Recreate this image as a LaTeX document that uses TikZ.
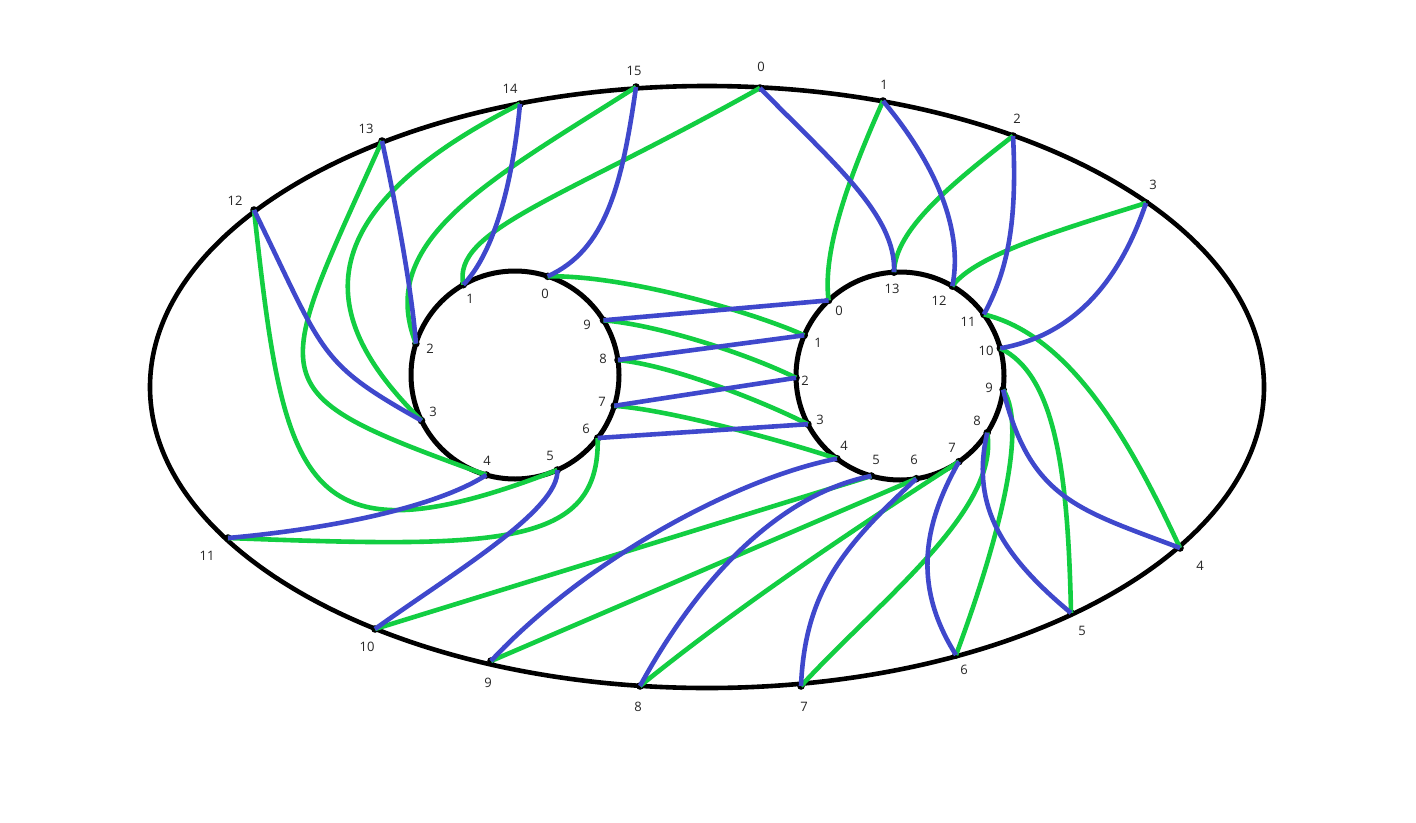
\documentclass[tikz,border=0pt]{standalone}
\usepackage{fontspec}
\setmainfont{Open Sans}
\definecolor{cgreen}{RGB}{18,206,66}
\definecolor{cblue}{RGB}{63,72,204}
\begin{document}
\begin{tikzpicture}[x=1pt,y=-1pt,
  gr/.style={draw=cgreen,line width=4.6pt},
  bl/.style={draw=cblue,line width=4.6pt},
  ring/.style={draw=black,line width=5pt},
  lab/.style={font=\fontsize{13}{15}\selectfont,inner sep=0pt,text=black!85},
  pt/.style={fill=black}]
\useasboundingbox (0,0) rectangle (1416,822);
\fill[white] (0,0) rectangle (1416,822);
% outer points
\coordinate (o0) at (760,88);
\coordinate (o1) at (883,101);
\coordinate (o2) at (1013,136);
\coordinate (o3) at (1146,203);
\coordinate (o4) at (1180,548);
\coordinate (o5) at (1071,613);
\coordinate (o6) at (956,655);
\coordinate (o7) at (801,686);
\coordinate (o8) at (640,686);
\coordinate (o9) at (491,661);
\coordinate (o10) at (375,629);
\coordinate (o11) at (228,538);
\coordinate (o12) at (254,210);
\coordinate (o13) at (382,141);
\coordinate (o14) at (520,104);
\coordinate (o15) at (636,87);
% left circle points
\coordinate (lc) at (515,375);
\coordinate (l0) at (547.7,276.3);
\coordinate (l1) at (463.3,284.7);
\coordinate (l2) at (415.9,343.6);
\coordinate (l3) at (421.5,420.6);
\coordinate (l4) at (486.3,475.0);
\coordinate (l5) at (557.3,470.0);
\coordinate (l6) at (597.7,438.0);
\coordinate (l7) at (614.3,405.8);
\coordinate (l8) at (618.0,360.0);
\coordinate (l9) at (603.5,320.3);
% right circle points
\coordinate (rc) at (900,376);
\coordinate (r0) at (828.6,300.4);
\coordinate (r1) at (804.2,335.3);
\coordinate (r2) at (796.0,377.8);
\coordinate (r3) at (807.9,424.2);
\coordinate (r4) at (836.9,458.6);
\coordinate (r5) at (871.3,476.0);
\coordinate (r6) at (916.3,478.7);
\coordinate (r7) at (959.0,461.6);
\coordinate (r8) at (987.2,432.7);
\coordinate (r9) at (1003.1,389.6);
\coordinate (r10) at (1000.3,348.3);
\coordinate (r11) at (983.9,314.4);
\coordinate (r12) at (952.3,286.1);
\coordinate (r13) at (894.0,272.2);
% rings
\draw[draw=black,line width=4.6pt] (707,387) ellipse [x radius=557pt, y radius=301pt];
\draw[ring] (lc) circle [radius=104pt];
\draw[ring] (rc) circle [radius=104pt];
% dots
\foreach \p in {o0,o1,o2,o3,o4,o5,o6,o7,o8,o9,o10,o11,o12,o13,o14,o15,
  l0,l1,l2,l3,l4,l5,l6,l7,l8,l9,
  r0,r1,r2,r3,r4,r5,r6,r7,r8,r9,r10,r11,r12,r13}
  \fill[pt] (\p) circle [radius=3.8pt];
% green
\draw[gr] (o0) .. controls (560,200) and (452,230) .. (l1);
\draw[gr] (o15) .. controls (490,180) and (375,240) .. (l2);
\draw[gr] (o14) .. controls (280,225) and (335,335) .. (l3);
\draw[gr] (o13) .. controls (270,390) and (254,391) .. (l4);
\draw[gr] (o12) .. controls (284,483) and (299,570) .. (l5);
\draw[gr] (o11) .. controls (498,548) and (600,548) .. (l6);
\draw[gr] (o10) -- (r5);
\draw[gr] (o9) -- (r6);
\draw[gr] (o8) .. controls (740,605) and (860,525) .. (r7);
\draw[gr] (o7) .. controls (880,600) and (1000,510) .. (r8);
\draw[gr] (o6) .. controls (993,555) and (1030,430) .. (r9);
\draw[gr] (o5) .. controls (1068,470) and (1055,375) .. (r10);
\draw[gr] (o4) .. controls (1130,440) and (1070,335) .. (r11);
\draw[gr] (o3) .. controls (1060,230) and (975,255) .. (r12);
\draw[gr] (o2) .. controls (950,185) and (895,230) .. (r13);
\draw[gr] (o1) .. controls (850,175) and (822,250) .. (r0);
\draw[gr] (l0) .. controls (630,275) and (760,315) .. (r1);
\draw[gr] (l9) .. controls (660,325) and (750,355) .. (r2);
\draw[gr] (l8) .. controls (670,365) and (760,400) .. (r3);
\draw[gr] (l7) .. controls (670,410) and (780,440) .. (r4);
% blue
\draw[bl] (o15) .. controls (622,185) and (606,250) .. (l0);
\draw[bl] (o14) .. controls (512,190) and (492,255) .. (l1);
\draw[bl] (o13) .. controls (395,200) and (412,290) .. (l2);
\draw[bl] (o12) .. controls (325,355) and (317,362) .. (l3);
\draw[bl] (o11) .. controls (340,528) and (440,505) .. (l4);
\draw[bl] (o10) .. controls (450,575) and (560,510) .. (l5);
\draw[bl] (o9) .. controls (580,565) and (730,480) .. (r4);
\draw[bl] (o8) .. controls (695,585) and (775,495) .. (r5);
\draw[bl] (o7) .. controls (805,590) and (845,545) .. (r6);
\draw[bl] (o6) .. controls (915,590) and (920,530) .. (r7);
\draw[bl] (o5) .. controls (995,550) and (972,500) .. (r8);
\draw[bl] (o4) .. controls (1080,510) and (1030,500) .. (r9);
\draw[bl] (o3) .. controls (1120,280) and (1075,335) .. (r10);
\draw[bl] (o2) .. controls (1018,230) and (1005,275) .. (r11);
\draw[bl] (o1) .. controls (945,175) and (962,240) .. (r12);
\draw[bl] (o0) .. controls (830,160) and (897,215) .. (r13);
\draw[bl] (l9) -- (r0);
\draw[bl] (l8) -- (r1);
\draw[bl] (l7) -- (r2);
\draw[bl] (l6) -- (r3);
% outer labels
\node[lab] (to0) at (761,67) {0};
\node[lab] (to1) at (884,85) {1};
\node[lab] (to2) at (1017,119) {2};
\node[lab] (to3) at (1153,185) {3};
\node[lab] (to4) at (1200,566) {4};
\node[lab] (to5) at (1082,631) {5};
\node[lab] (to6) at (964,670) {6};
\node[lab] (to7) at (804,707) {7};
\node[lab] (to8) at (638,707) {8};
\node[lab] (to9) at (488,683) {9};
\node[lab] (to10) at (367,647) {10};
\node[lab] (to11) at (207,556) {11};
\node[lab] (to12) at (235,201) {12};
\node[lab] (to13) at (366,129) {13};
\node[lab] (to14) at (510,89) {14};
\node[lab] (to15) at (634,71) {15};
% left labels
\node[lab] (tl0) at (545,294) {0};
\node[lab] (tl1) at (470,299) {1};
\node[lab] (tl2) at (430,349) {2};
\node[lab] (tl3) at (433,412) {3};
\node[lab] (tl4) at (487,461) {4};
\node[lab] (tl5) at (550,456) {5};
\node[lab] (tl6) at (586,429) {6};
\node[lab] (tl7) at (602,402) {7};
\node[lab] (tl8) at (603,359) {8};
\node[lab] (tl9) at (587,325) {9};
% right labels
\node[lab] (tr0) at (839,311) {0};
\node[lab] (tr1) at (818,343) {1};
\node[lab] (tr2) at (805,381) {2};
\node[lab] (tr3) at (820,420) {3};
\node[lab] (tr4) at (844,446) {4};
\node[lab] (tr5) at (876,460) {5};
\node[lab] (tr6) at (914,460) {6};
\node[lab] (tr7) at (952,448) {7};
\node[lab] (tr8) at (977,421) {8};
\node[lab] (tr9) at (989,388) {9};
\node[lab] (tr10) at (986,351) {10};
\node[lab] (tr11) at (968,322) {11};
\node[lab] (tr12) at (939,301) {12};
\node[lab] (tr13) at (892,289) {13};
\end{tikzpicture}
\end{document}
